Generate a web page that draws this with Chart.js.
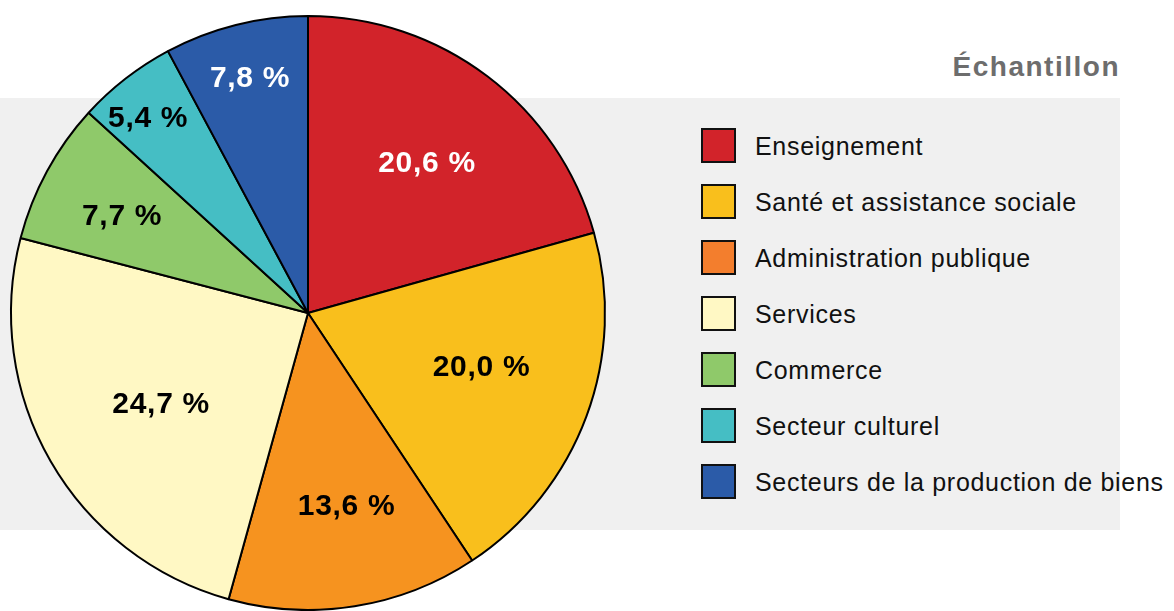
<!DOCTYPE html>
<html lang="fr">
<head>
<meta charset="utf-8">
<script src="https://cdn.jsdelivr.net/npm/chart.js@4"></script>
<style>
    html, body { margin: 0; padding: 0; background: #fff; }
    body { width: 1174px; height: 611px; position: relative; overflow: hidden;
        font-family: "Liberation Sans", Arial, Helvetica, sans-serif; }
    #panel { position: absolute; left: 0; top: 98px; width: 1120px; height: 432px; background: #f0f0f0; }
    #title { position: absolute; right: 54px; top: 47px; font-size: 28px; font-weight: bold;
        color: #6d6d6d; letter-spacing: 1.5px; line-height: 40px; }
    #chartBox { position: absolute; left: 0; top: 0; width: 616px; height: 611px; }
    #legend { position: absolute; left: 701px; top: 128px; margin: 0; padding: 0; list-style: none; }
    #legend li { height: 56px; display: flex; align-items: flex-start; font-size: 25px;
        letter-spacing: 0.7px; color: #111; white-space: nowrap; }
    #legend .box { width: 31px; height: 31px; border: 2px solid #111; margin-right: 19px; flex: none; }
    #legend .txt { line-height: 35px; margin-top: 1px; }
</style>
</head>
<body>
<div id="panel"></div>
<div id="title">Échantillon</div>
<div id="chartBox"><canvas id="pieChart"></canvas></div>
<ul id="legend"></ul>
<script>
    const categories = [
        'Enseignement',
        'Santé et assistance sociale',
        'Administration publique',
        'Services',
        'Commerce',
        'Secteur culturel',
        'Secteurs de la production de biens'
    ];
    const shares = [20.6, 20.0, 13.6, 24.7, 7.7, 5.4, 7.8];
    const valueLabels = ['20,6 %', '20,0 %', '13,6 %', '24,7 %', '7,7 %', '5,4 %', '7,8 %'];

    const sliceColors = ['#d2232a', '#f9bf1c', '#f6931f', '#fff8c4', '#8fc96a', '#45bec4', '#2b5ba8'];
    const legendColors = ['#d2232a', '#f9bf1c', '#f37e2d', '#fff8c4', '#8fc96a', '#45bec4', '#2b5ba8'];
    const labelColors = ['#fff', '#000', '#000', '#000', '#000', '#000', '#fff'];
    // placement des libellés : fraction du rayon et décalage d'angle (degrés)
    const labelRadius = [0.650, 0.610, 0.656, 0.579, 0.709, 0.854, 0.820];
    const labelAngleShift = [0.9, -3.6, -2.4, -1.4, -0.5, -1.2, 0.3];

    const sliceLabels = {
        id: 'sliceLabels',
        afterDatasetsDraw(chart) {
            const ctx = chart.ctx;
            const arcs = chart.getDatasetMeta(0).data;
            ctx.save();
            ctx.font = 'bold 30px "Liberation Sans", Arial, sans-serif';
            ctx.letterSpacing = '0.7px';
            ctx.textAlign = 'center';
            ctx.textBaseline = 'alphabetic';
            arcs.forEach((arc, i) => {
                const mid = (arc.startAngle + arc.endAngle) / 2 + labelAngleShift[i] * Math.PI / 180;
                const r = arc.outerRadius * labelRadius[i];
                ctx.fillStyle = labelColors[i];
                // +10.7 : moitié de la hauteur des chiffres
                ctx.fillText(valueLabels[i], arc.x + Math.cos(mid) * r, arc.y + Math.sin(mid) * r + 10.7);
            });
            ctx.restore();
        }
    };

    new Chart(document.getElementById('pieChart'), {
        type: 'pie',
        data: {
            labels: categories,
            datasets: [{
                data: shares,
                backgroundColor: sliceColors,
                borderColor: '#000',
                borderWidth: 2
            }]
        },
        options: {
            responsive: true,
            maintainAspectRatio: false,
            animation: false,
            events: [],
            layout: { padding: { top: 15, bottom: 0, left: 0, right: 0 } },
            plugins: {
                legend: { display: false },
                tooltip: { enabled: false }
            }
        },
        plugins: [sliceLabels]
    });

    const legendEl = document.getElementById('legend');
    categories.forEach((name, i) => {
        legendEl.insertAdjacentHTML('beforeend',
            `<li><span class="box" style="background:${legendColors[i]}"></span><span class="txt">${name}</span></li>`);
    });
</script>
</body>
</html>
